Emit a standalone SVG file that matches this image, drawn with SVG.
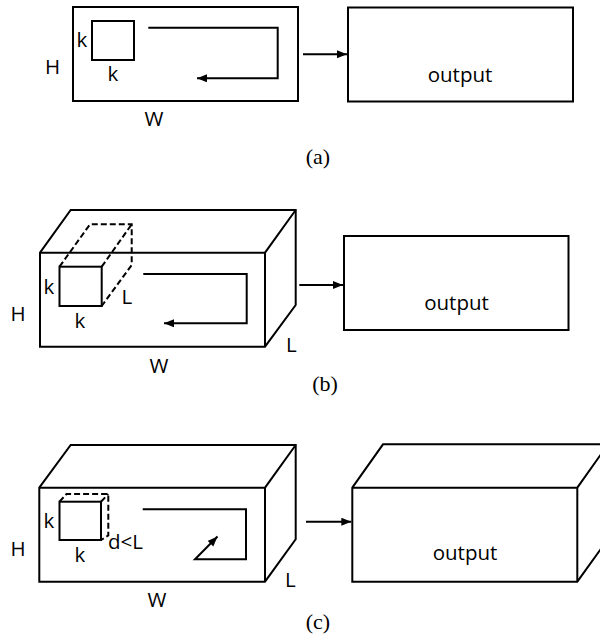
<svg xmlns="http://www.w3.org/2000/svg" width="600" height="639" viewBox="0 0 600 639">
<defs>
<marker id="ah" markerUnits="userSpaceOnUse" markerWidth="12" markerHeight="10" refX="10" refY="4" orient="auto">
<path d="M0,0 L10,4 L0,8 z" fill="#000"/>
</marker>
<style>
.s{fill:#fff;stroke:#000;stroke-width:2;stroke-linejoin:miter}
.l{fill:none;stroke:#000;stroke-width:2}
.d{fill:none;stroke:#000;stroke-width:2;stroke-dasharray:6,3}
.c{fill:none;stroke:#000;stroke-width:2;marker-end:url(#ah)}
.t{font-family:"Open Sans","DejaVu Sans",sans-serif;font-size:20.5px;fill:#000}
.m{text-anchor:middle}
.cap{font-family:"Liberation Serif",serif;font-size:22px;fill:#000;text-anchor:middle}
</style>
</defs>
<rect width="600" height="639" fill="#fff"/>

<!-- Panel (a) -->
<g id="input-a">
<rect class="s" x="73" y="7" width="225" height="94"/>
<rect class="s" x="92" y="21" width="42" height="39"/>
<text class="t" x="76.5" y="46.5">k</text>
<text class="t" x="107.5" y="80.5">k</text>
<text class="t" x="45" y="73.5">H</text>
<text class="t m" x="154" y="126">W</text>
</g>
<g id="output-a">
<rect class="s" x="348" y="7.5" width="225" height="94"/>
<text class="t m" x="460" y="81.5">output</text>
</g>
<text class="cap" x="318" y="164">(a)</text>

<!-- Panel (b) -->
<g id="input-b">
<path class="s" d="M40,252.7 L70.7,210 L295.7,210 L295.7,305 L265,346.7 L40,346.7 Z"/>
<path class="l" d="M40,252.7 L265,252.7 L295.7,210 M265,252.7 L265,346.7"/>
<path class="d" d="M59.5,266.7 L90,224.3 L131.7,224.3 L131.7,265 L101.7,306 M101.7,266.7 L131.7,224.3"/>
<rect class="s" x="59.5" y="266.7" width="42.2" height="39.3"/>
<text class="t" x="43.5" y="294.3">k</text>
<text class="t" x="74.5" y="328.3">k</text>
<text class="t" x="121.5" y="304">L</text>
<text class="t" x="286" y="351.7">L</text>
<text class="t" x="10.5" y="321">H</text>
<text class="t m" x="159" y="373.3">W</text>
</g>
<g id="output-b">
<rect class="s" x="344" y="236" width="224.5" height="94"/>
<text class="t m" x="456.5" y="310">output</text>
</g>
<text class="cap" x="325" y="391">(b)</text>

<!-- Panel (c) -->
<g id="input-c">
<path class="s" d="M39.3,487.7 L70.7,445 L295.7,445 L295.7,539.3 L265,581.7 L39.3,581.7 Z"/>
<path class="l" d="M39.3,487.7 L265,487.7 L295.7,445 M265,487.7 L265,581.7"/>
<path class="d" d="M59.5,501.7 L66.5,494 L108.3,494 L108.3,535.5 L101,540 M101,501.7 L108.3,494"/>
<rect class="s" x="59.5" y="501.7" width="41.5" height="38.3"/>
<text class="t" x="43.5" y="528">k</text>
<text class="t" x="74.5" y="561.7">k</text>
<text class="t" x="108" y="549">d&lt;L</text>
<text class="t" x="285" y="586.7">L</text>
<text class="t" x="10.5" y="556">H</text>
<text class="t m" x="157" y="606.7">W</text>
</g>
<g id="output-c">
<path class="s" d="M352.3,487.7 L383,444.3 L608,444.3 L608,539 L577.3,581.7 L352.3,581.7 Z"/>
<path class="l" d="M352.3,487.7 L577.3,487.7 L608,444.3 M577.3,487.7 L577.3,581.7"/>
<text class="t m" x="465" y="560">output</text>
</g>
<text class="cap" x="318" y="629">(c)</text>

<g id="connectors">
<path class="c" d="M148.3,27.7 L277.7,27.7 L277.7,78.3 L197,78.3"/>
<path class="c" d="M303,54.3 L347,54.3"/>
<path class="c" d="M143.3,274 L246.7,274 L246.7,323.3 L164,323.3"/>
<path class="c" d="M299.3,285 L343,285"/>
<path class="c" d="M142.7,509.3 L246,509.3 L246,559.3 L195,559.3 L217.5,536.5"/>
<path class="c" d="M306,521.7 L351.3,521.7"/>
</g>
</svg>
